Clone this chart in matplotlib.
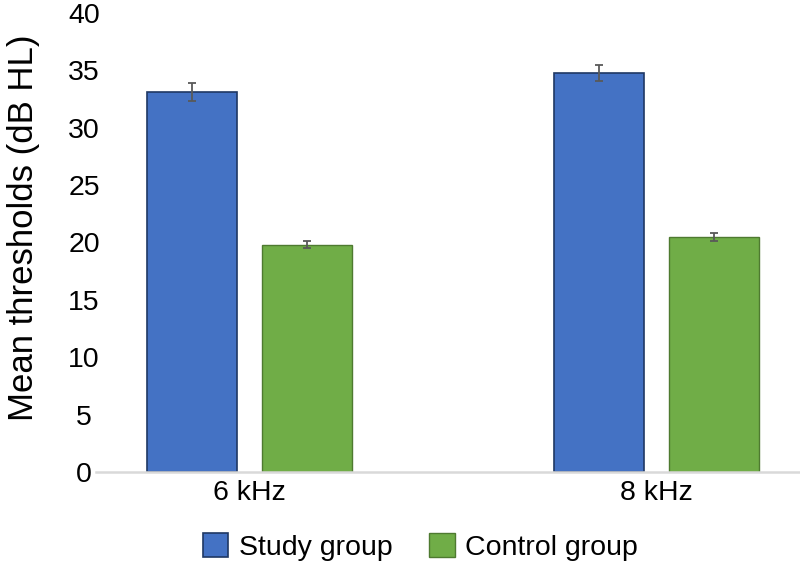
import numpy as np
import matplotlib.pyplot as plt

plt.rcParams['font.family'] = ['Liberation Sans', 'DejaVu Sans']

# data
freqs = ['6 kHz', '8 kHz']
study = [33.1, 34.8]
study_err = [0.8, 0.7]
control = [19.8, 20.5]
control_err = [0.3, 0.35]

fig = plt.figure(figsize=(8, 5.65), dpi=100)
ax = fig.add_axes([0.12, 0.1646, 0.88, 0.8124])

x = np.arange(len(freqs))
w = 0.221
off = 0.1415

ax.bar(x - off, study, w, color='#4472C4', edgecolor='#1F3864', linewidth=1.2,
       label='Study group', zorder=2)
ax.bar(x + off, control, w, color='#70AD47', edgecolor='#4E7A30', linewidth=1.0,
       label='Control group', zorder=2)
ax.errorbar(x - off, study, yerr=study_err, fmt='none', ecolor='#595959',
            elinewidth=1.3, capsize=3.2, capthick=1.3, zorder=3)
ax.errorbar(x + off, control, yerr=control_err, fmt='none', ecolor='#595959',
            elinewidth=1.3, capsize=3.2, capthick=1.3, zorder=3)

ax.set_xlim(-0.377, 1.353)
ax.set_ylim(0, 40)
ax.set_yticks(range(0, 41, 5))
ax.set_xticks(x)
ax.set_xticklabels(freqs)
ax.tick_params(axis='both', length=0, labelsize=20.5)
ax.tick_params(axis='x', pad=6)
ax.tick_params(axis='y', pad=0)
for lab in ax.get_yticklabels():
    lab.set_horizontalalignment('center')
    lab.set_x(-0.017)

for s in ['top', 'right', 'left']:
    ax.spines[s].set_visible(False)
ax.spines['bottom'].set_color('#D9D9D9')
ax.spines['bottom'].set_linewidth(1.8)

ax.set_ylabel('Mean thresholds (dB HL)', fontsize=25)
ax.yaxis.set_label_coords(-0.08, 0.532)

fig.legend(loc='center', bbox_to_anchor=(0.5256, 0.032), ncol=2,
           frameon=False, fontsize=20.5, handlelength=0.9, handleheight=0.95,
           handletextpad=0.36, columnspacing=1.3)

fig.savefig('out.png', dpi=100)
